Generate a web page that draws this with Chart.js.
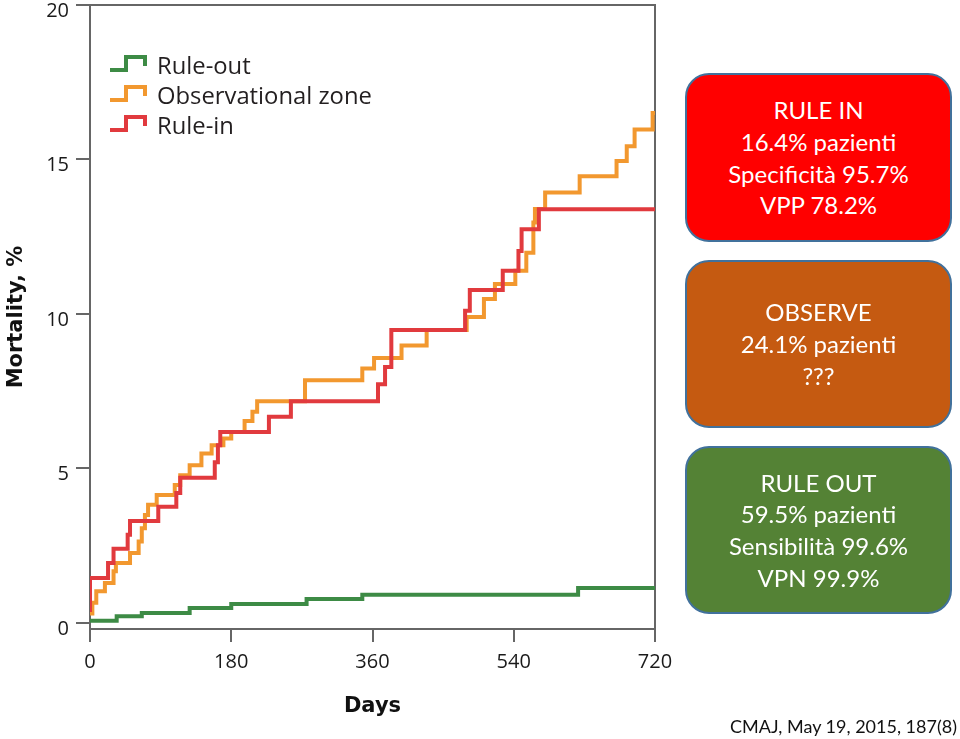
<!DOCTYPE html>
<html>
<head>
<meta charset="utf-8">
<script src="https://cdn.jsdelivr.net/npm/chart.js@4.4.1/dist/chart.umd.min.js"></script>
<style>
html,body{margin:0;padding:0;background:#fff;}
#wrap{position:relative;width:960px;height:739px;overflow:hidden;background:#fff;}
#c{position:absolute;left:0;top:0;}
.box{position:absolute;left:685px;width:267px;box-sizing:border-box;border:2px solid #41719c;border-radius:24px;
 display:flex;flex-direction:column;justify-content:center;align-items:center;color:#fff;
 font-family:Lato,"Open Sans",sans-serif;font-size:24px;line-height:31.7px;text-align:center;}
#credit{position:absolute;right:3px;top:715px;font-family:Lato,"Open Sans",sans-serif;font-size:18px;color:#111;white-space:nowrap;}
</style>
</head>
<body>
<div id="wrap">
<canvas id="c" width="960" height="739"></canvas>
<div class="box" id="b1" style="top:73px;height:169px;background:#ff0000"></div>
<div class="box" id="b2" style="top:260px;height:168px;background:#c55a11"></div>
<div class="box" id="b3" style="top:446px;height:168px;background:#548235"></div>
<div id="credit"></div>
</div>
<script>
// ---- data ----
const seriesLabels = ["Rule-out", "Observational zone", "Rule-in"];

const ruleOutDays = [0, 34, 66, 127, 180, 276, 347, 622, 720];
const ruleOutPct  = [0.07, 0.21, 0.32, 0.48, 0.61, 0.77, 0.91, 1.13, 1.13];

const obsDays = [0, 3, 8, 19, 30, 33, 51, 62, 66, 70, 74, 85, 108, 115, 127, 142, 155, 170, 180, 197,
                 207, 213, 274, 347, 362, 397, 429, 480, 502, 516, 542, 556, 565, 567, 580, 624, 671, 684, 694, 717, 720];
const obsPct  = [0.3, 0.65, 1.02, 1.29, 1.67, 1.94, 2.26, 2.63, 3.06, 3.49, 3.82, 4.14, 4.46, 4.78, 5.1, 5.48, 5.75, 5.97, 6.18, 6.53,
                 6.83, 7.17, 7.85, 8.23, 8.57, 8.98, 9.48, 9.9, 10.48, 10.97, 11.4, 11.98, 12.96, 13.4, 13.93, 14.46, 14.95, 15.43, 15.97, 16.5, 16.5];

const ruleInDays = [0, 0, 23, 30, 48, 51, 87, 110, 115, 159, 163, 166, 228, 256, 367, 376, 384, 478, 484, 526, 546, 550, 572, 720];
const ruleInPct  = [0.35, 1.45, 1.94, 2.4, 2.85, 3.3, 3.76, 4.2, 4.7, 5.2, 5.75, 6.18, 6.67, 7.17, 7.72, 8.28, 9.48, 10.1, 10.77, 11.4, 12.04, 12.74, 13.39, 13.39];

const xTicks = [0, 180, 360, 540, 720];
const yTicks = [0, 5, 10, 15, 20];

const boxTexts = [
  ["RULE IN", "16.4% pazienti", "Specificità 95.7%", "VPP 78.2%"],
  ["OBSERVE", "24.1% pazienti", "???"],
  ["RULE OUT", "59.5% pazienti", "Sensibilità 99.6%", "VPN 99.9%"]
];
const creditText = "CMAJ, May 19, 2015, 187(8)";

// ---- html annotations ----
["b1","b2","b3"].forEach((id, i) => {
  const el = document.getElementById(id);
  boxTexts[i].forEach(t => { const d = document.createElement("div"); d.textContent = t; el.appendChild(d); });
});
document.getElementById("credit").textContent = creditText;

// ---- chart ----
const COLORS = ["#3d8b45", "#f2982f", "#e13a3e"];
const AXIS = "#666666";
const toXY = (xs, ys) => xs.map((x, i) => ({x: x, y: ys[i]}));

const framePlugin = {
  id: "frame",
  beforeDatasetsDraw(chart) {
    const {ctx, chartArea: a} = chart;
    ctx.save();
    ctx.strokeStyle = AXIS; ctx.lineWidth = 2;
    ctx.beginPath();
    ctx.moveTo(a.left, a.top); ctx.lineTo(a.right, a.top); ctx.lineTo(a.right, a.bottom);
    ctx.stroke();
    ctx.restore();
  }
};

const stepLegend = {
  id: "stepLegend",
  afterDraw(chart) {
    const {ctx} = chart;
    ctx.save();
    ctx.font = '23.8px "Open Sans"';
    ctx.textBaseline = "alphabetic";
    ctx.fillStyle = "#231f20";
    chart.data.datasets.forEach((ds, i) => {
      const base = 74 + i * 30;
      ctx.strokeStyle = ds.borderColor; ctx.lineWidth = 4; ctx.lineJoin = "miter"; ctx.lineCap = "butt";
      ctx.beginPath();
      ctx.moveTo(110, base - 4); ctx.lineTo(126, base - 4); ctx.lineTo(126, base - 17);
      ctx.lineTo(145, base - 17); ctx.lineTo(145, base - 8);
      ctx.stroke();
      ctx.fillText(ds.label, 157, base);
    });
    ctx.restore();
  }
};

new Chart(document.getElementById("c"), {
  type: "line",
  data: {
    datasets: [
      {label: seriesLabels[0], data: toXY(ruleOutDays, ruleOutPct), borderColor: COLORS[0], order: 3},
      {label: seriesLabels[1], data: toXY(obsDays, obsPct), borderColor: COLORS[1], order: 2},
      {label: seriesLabels[2], data: toXY(ruleInDays, ruleInPct), borderColor: COLORS[2], order: 1}
    ].map(d => Object.assign(d, {stepped: "before", borderWidth: 4, pointRadius: 0, fill: false, tension: 0}))
  },
  options: {
    responsive: false,
    animation: false,
    events: [],
    layout: {padding: {left: 0, top: 5, right: 305, bottom: 0}, autoPadding: false},
    plugins: {legend: {display: false}, tooltip: {enabled: false}},
    scales: {
      x: {
        type: "linear", min: 0, max: 720,
        afterBuildTicks: s => { s.ticks = xTicks.map(v => ({value: v})); },
        afterFit: s => { s.height = 110; s.paddingLeft = 0; s.paddingRight = 0; },
        grid: {drawOnChartArea: false, color: AXIS, lineWidth: 2, tickLength: 13},
        border: {display: true, color: AXIS, width: 2},
        ticks: {color: "#1a1a1a", font: {family: "Open Sans", size: 20}, padding: 8, maxRotation: 0},
        title: {display: true, text: "Days", color: "#111", font: {family: "DejaVu Sans", size: 21, weight: "bold"}, padding: {top: 0, bottom: 20}}
      },
      y: {
        type: "linear", min: -0.2, max: 20,
        afterBuildTicks: s => { s.ticks = yTicks.map(v => ({value: v})); },
        afterFit: s => { s.width = 90; s.paddingTop = 0; s.paddingBottom = 0; },
        grid: {drawOnChartArea: false, color: AXIS, lineWidth: 2, tickLength: 14},
        border: {display: true, color: AXIS, width: 2},
        ticks: {color: "#1a1a1a", font: {family: "Open Sans", size: 20}, padding: 7, labelOffset: 6},
        title: {display: true, text: "Mortality, %", color: "#111", font: {family: "DejaVu Sans", size: 21, weight: "bold"}, padding: {top: 4, bottom: 0}}
      }
    }
  },
  plugins: [framePlugin, stepLegend]
});
</script>
</body>
</html>
